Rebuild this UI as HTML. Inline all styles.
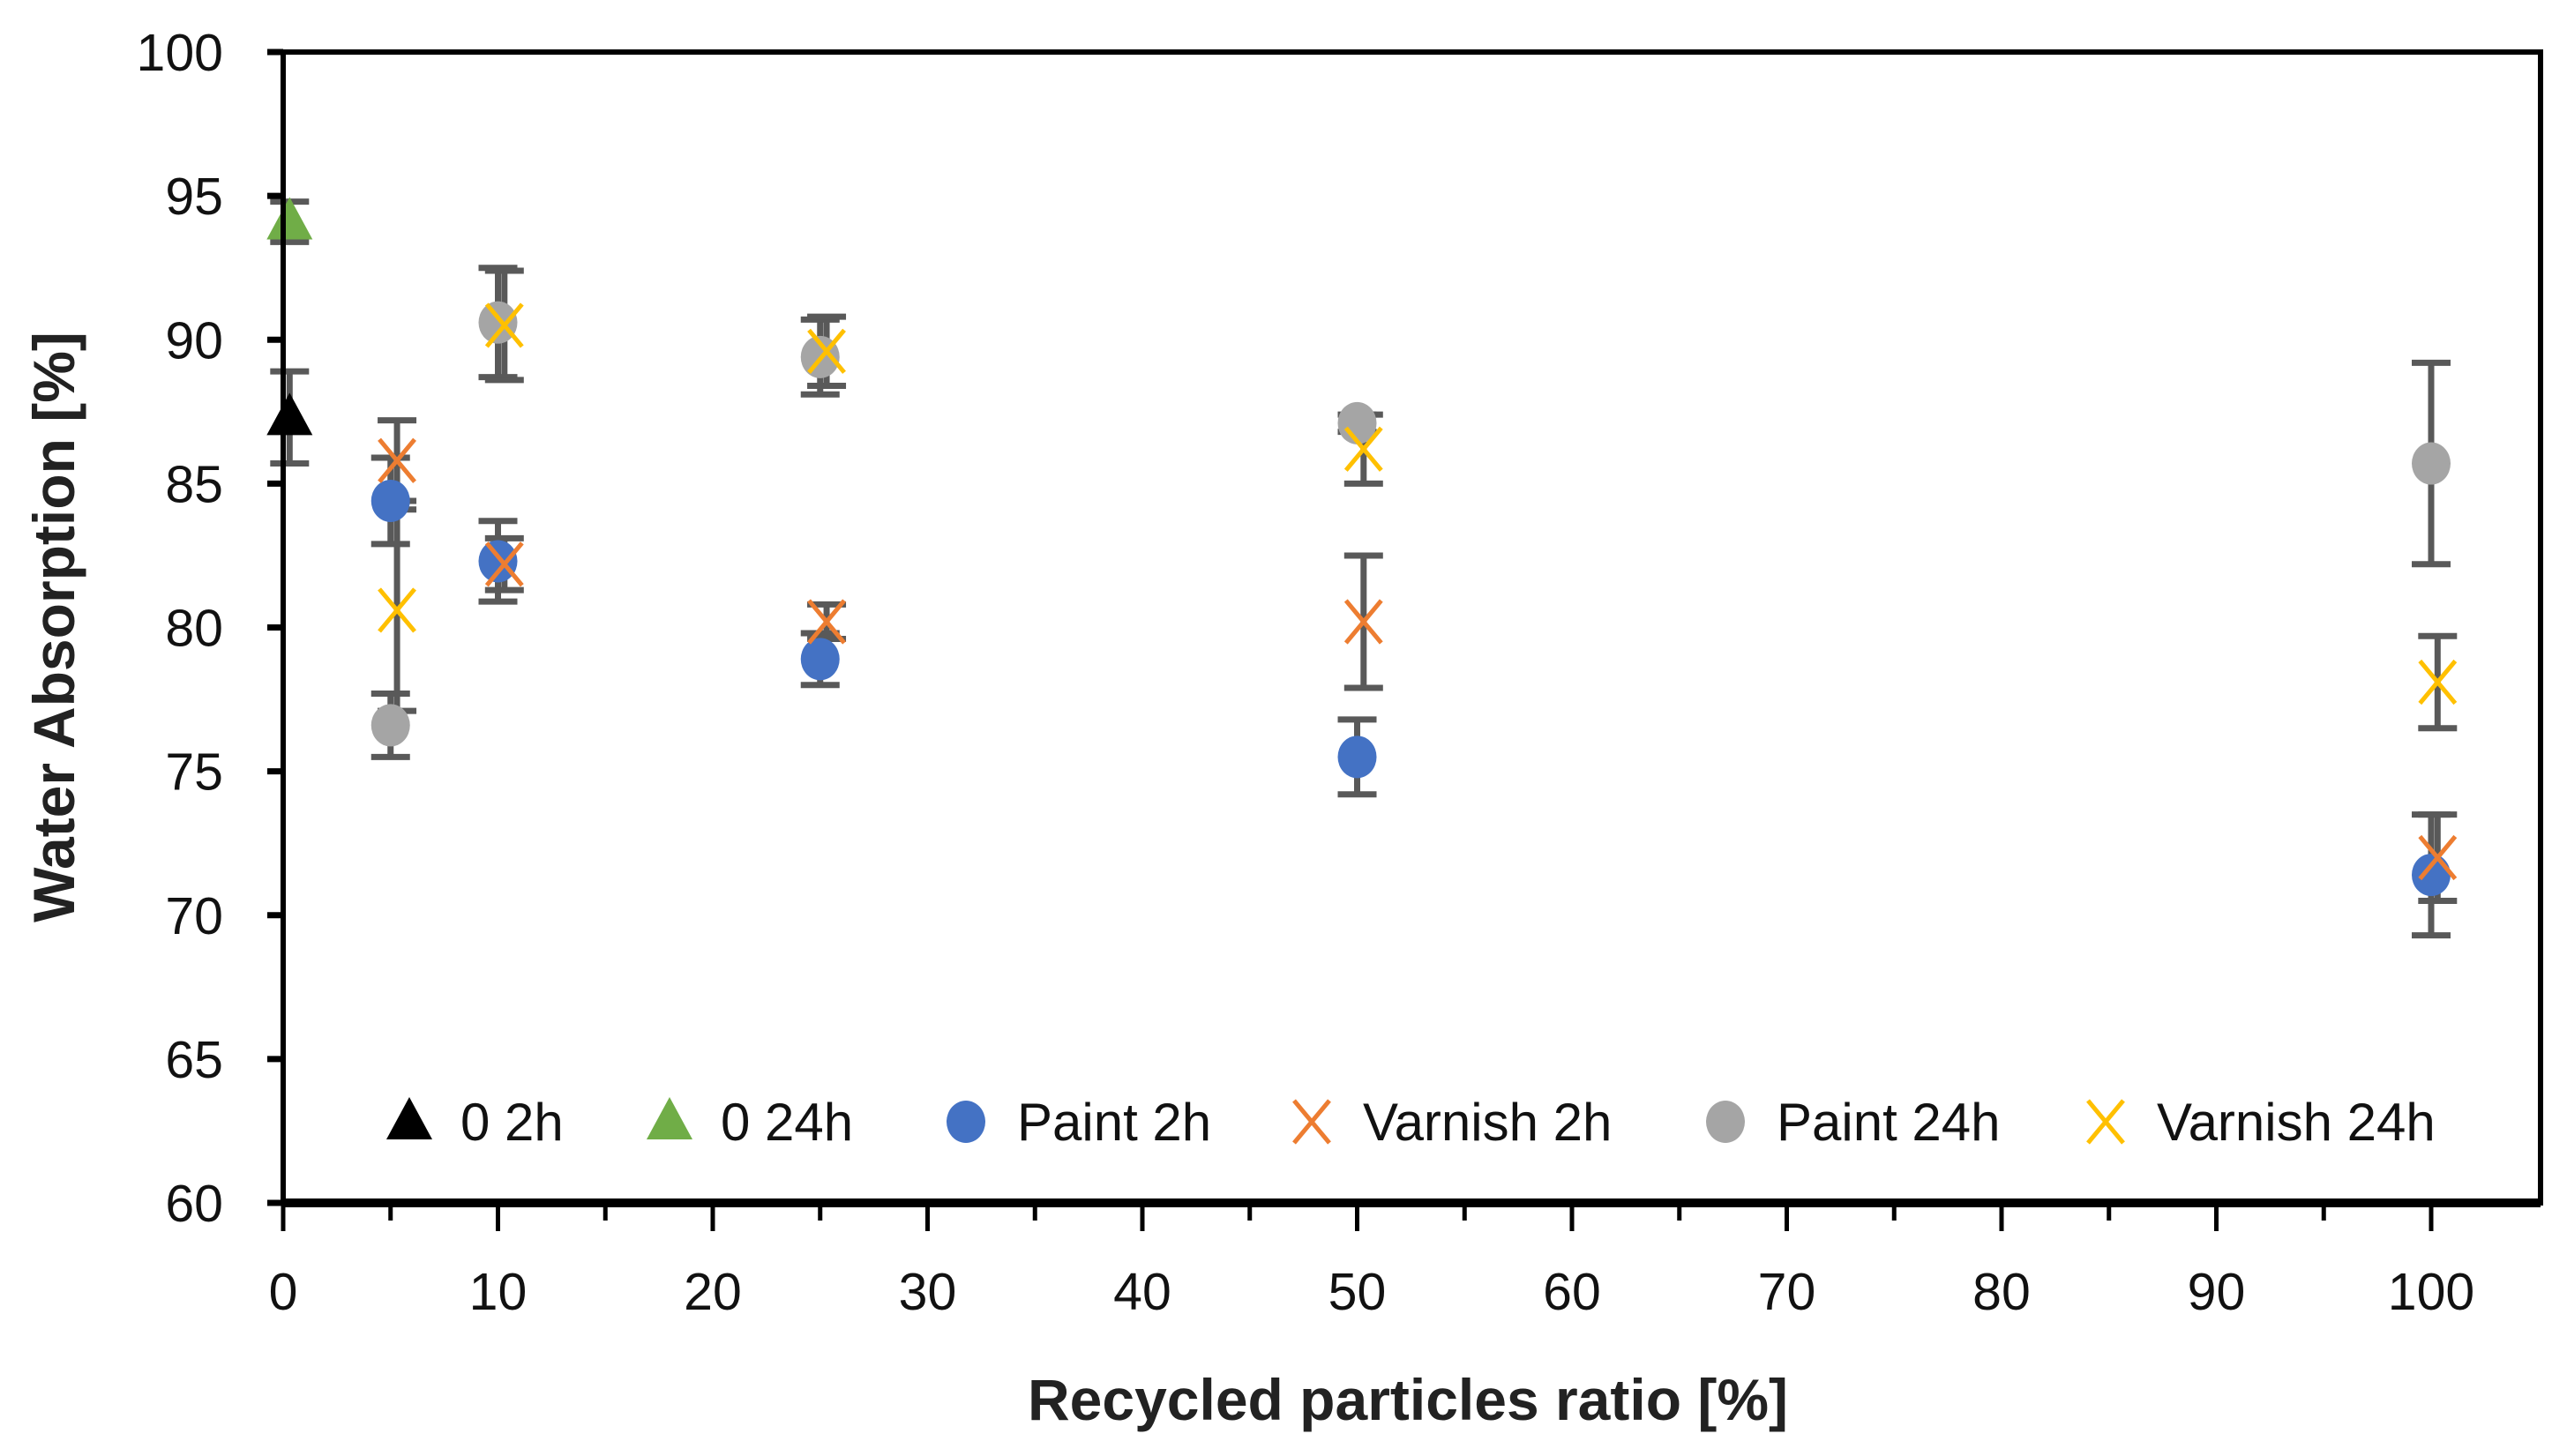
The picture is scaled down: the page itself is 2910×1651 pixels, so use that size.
<!DOCTYPE html>
<html><head><meta charset="utf-8"><style>
html,body{margin:0;padding:0;background:#fff;}
svg{display:block;font-family:"Liberation Sans",sans-serif;}
</style></head><body>
<svg id="chart" width="2910" height="1651" viewBox="0 0 2910 1651" xmlns="http://www.w3.org/2000/svg">
<rect width="2910" height="1651" fill="#fff"/>
<g id="grid"></g>
<g id="marks"></g>
<g id="axes"></g>
<g id="legend"></g>
<text x="0" y="0" transform="translate(84,711) rotate(-90)" text-anchor="middle" font-size="66" font-weight="bold" fill="#222">Water Absorption [%]</text>
<text x="1596" y="1610" text-anchor="middle" font-size="66" font-weight="bold" fill="#222">Recycled particles ratio [%]</text>
</svg>
<script>
const xTicks = [0,10,20,30,40,50,60,70,80,90,100];
const yTicks = [60,65,70,75,80,85,90,95,100];
const ctrlX = [0.3];
const ctrl2hY = [87.3];
const ctrl2hErr = [1.6];
const ctrl24hY = [94.1];
const ctrl24hErr = [0.7];
const paintX = [5,10,25,50,100];
const varnishX = [5.3,10.3,25.3,50.3,100.3];
const paint2hY = [84.4,82.3,78.9,75.5,71.4];
const paint2hErr = [1.5,1.4,0.9,1.3,2.1];
const varnish2hY = [85.8,82.2,80.2,80.2,72.0];
const varnish2hErr = [1.4,0.9,0.6,2.3,1.5];
const paint24hY = [76.6,90.6,89.4,87.1,85.7];
const paint24hErr = [1.1,1.9,1.3,0.3,3.5];
const varnish24hY = [80.6,90.5,89.6,86.2,78.1];
const varnish24hErr = [3.5,1.9,1.2,1.2,1.6];

const NS="http://www.w3.org/2000/svg";
const L=321,R=2880,T=59,B=1364,X100=2756;
const sx=v=>L+(X100-L)*v/100;
const sy=v=>B-(B-T)*(v-60)/40;
function mk(tag,attrs,parent){const e=document.createElementNS(NS,tag);for(const k in attrs)e.setAttribute(k,attrs[k]);parent.appendChild(e);return e;}
const axes=document.getElementById('axes'),marks=document.getElementById('marks'),legend=document.getElementById('legend');

const frame=mk('rect',{x:L,y:T,width:R-L,height:B-T,fill:'none',stroke:'#000','stroke-width':6},axes);


mk('line',{x1:L,y1:B,x2:R,y2:B,stroke:'#000','stroke-width':10},axes);
yTicks.forEach(v=>{
  const t=mk('line',{x1:L-18,y1:sy(v),x2:L,y2:sy(v),stroke:'#000','stroke-width':7},axes);
  
  
  const tx=mk('text',{x:253,y:sy(v)+21,'text-anchor':'end','font-size':59,fill:'#111'},axes);
  tx.textContent=v;
  
  
});
xTicks.forEach(v=>{
  const t=mk('line',{x1:sx(v),y1:B,x2:sx(v),y2:B+32,stroke:'#000','stroke-width':5},axes);
  
  
  if(v<100){
    const m=mk('line',{x1:sx(v+5),y1:B,x2:sx(v+5),y2:B+20,stroke:'#000','stroke-width':5},axes);
    
    
  }
  const tx=mk('text',{x:sx(v),y:1485,'text-anchor':'middle','font-size':59,fill:'#111'},axes);
  tx.textContent=v;
  
  
});

function errBar(x,y,e){
  const g=mk('g',{stroke:'#595959','stroke-width':7},marks);
  
  
  mk('line',{x1:sx(x),y1:sy(y-e),x2:sx(x),y2:sy(y+e)},g);
  mk('line',{x1:sx(x)-22,y1:sy(y-e),x2:sx(x)+22,y2:sy(y-e)},g);
  mk('line',{x1:sx(x)-22,y1:sy(y+e),x2:sx(x)+22,y2:sy(y+e)},g);
}
function marker(type,color,cx,cy,parent){
  let e;
  if(type==='tri') e=mk('polygon',{points:`${cx},${cy-28} ${cx-26},${cy+20} ${cx+26},${cy+20}`,fill:color},parent);
  else if(type==='circ') e=mk('ellipse',{cx:cx,cy:cy,rx:22,ry:24,fill:color},parent);
  else e=mk('path',{d:`M${cx-20},${cy-24}L${cx+20},${cy+24}M${cx+20},${cy-24}L${cx-20},${cy+24}`,stroke:color,'stroke-width':5,fill:'none'},parent);
  return e;
}
const series=[
  {name:'0 2h',type:'tri',color:'#000',xs:ctrlX,ys:ctrl2hY,es:ctrl2hErr},
  {name:'0 24h',type:'tri',color:'#70ad47',xs:ctrlX,ys:ctrl24hY,es:ctrl24hErr},
  {name:'Paint 2h',type:'circ',color:'#4472c4',xs:paintX,ys:paint2hY,es:paint2hErr},
  {name:'Varnish 2h',type:'x',color:'#ed7d31',xs:varnishX,ys:varnish2hY,es:varnish2hErr},
  {name:'Paint 24h',type:'circ',color:'#a5a5a5',xs:paintX,ys:paint24hY,es:paint24hErr},
  {name:'Varnish 24h',type:'x',color:'#ffc000',xs:varnishX,ys:varnish24hY,es:varnish24hErr}
];
series.forEach(s=>{s.xs.forEach((x,i)=>errBar(x,s.ys[i],s.es[i]));});
series.forEach(s=>{
  s.xs.forEach((x,i)=>{
    const m=marker(s.type,s.color,sx(x),sy(s.ys[i]),marks);
    
    
  });
});
const legX=[464,759,1095,1487,1956,2387];
series.forEach((s,i)=>{
  const g=mk('g',{},legend);
  
  
  marker(s.type,s.color,legX[i],1272,g);
  const t=mk('text',{x:legX[i]+58,y:1293,'font-size':60,fill:'#111'},g);
  t.textContent=s.name;
});
</script>
</body></html>
